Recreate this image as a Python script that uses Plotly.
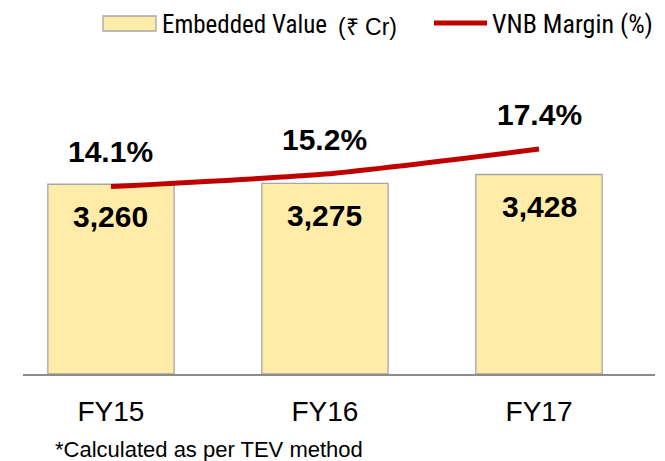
import plotly.graph_objects as go

# ---- data ----
categories = ["FY15", "FY16", "FY17"]
embedded_value = [3260, 3275, 3428]          # ₹ Cr
vnb_margin = [14.1, 15.2, 17.4]              # %
ev_labels = ["3,260", "3,275", "3,428"]
vnb_labels = ["14.1%", "15.2%", "17.4%"]
footnote = "*Calculated as per TEV method"

# ---- geometry (page has an 8px body margin) ----
OFF = 8
W, H = 665 - OFF, 461 - OFF
L, R, T, B = 23 - OFF, 10, 60 - OFF, 87
PW, PH = W - L - R, H - T - B


def pxx(x):
    return (x - OFF - L) / PW


def pxy(y):
    return (H - B - (y - OFF)) / PH


ARIAL = "Liberation Sans, Arial, sans-serif"
NARROW = "Liberation Sans Narrow, Arial Narrow, Roboto Condensed, sans-serif"

fig = go.Figure()
fig.add_trace(go.Bar(
    x=categories, y=embedded_value, width=0.59, yaxis="y",
    marker=dict(color="#FFECA8", line=dict(color="#A6A6A6", width=1.3)),
    hoverinfo="skip",
))
fig.add_trace(go.Scatter(
    x=categories, y=vnb_margin, mode="lines", yaxis="y2",
    line=dict(color="#C00000", width=5, shape="spline", smoothing=0.6),
    hoverinfo="skip",
))

annotations = []
for c, v, t in zip(categories, embedded_value, ev_labels):
    annotations.append(dict(x=c, y=v, xref="x", yref="y", text=t, showarrow=False,
                            yshift=-32, yanchor="middle",
                            font=dict(family=ARIAL, size=30, color="black", weight="bold")))
for c, v, t in zip(categories, vnb_margin, vnb_labels):
    annotations.append(dict(x=c, y=v, xref="x", yref="y2", text=t, showarrow=False,
                            yshift=35, yanchor="middle",
                            font=dict(family=ARIAL, size=30, color="black", weight="bold")))

# footnote
annotations.append(dict(x=pxx(53), y=pxy(449), xref="paper", yref="paper", text=footnote,
                        showarrow=False, xanchor="left", yanchor="middle",
                        font=dict(family=ARIAL, size=22, color="black")))

# custom legend
shapes = [
    dict(type="rect", xref="paper", yref="paper", x0=pxx(103), x1=pxx(156), y0=pxy(31), y1=pxy(16),
         fillcolor="#FFECA8", line=dict(color="#A6A6A6", width=1.3)),
    dict(type="line", xref="paper", yref="paper", x0=pxx(434), x1=pxx(487), y0=pxy(23), y1=pxy(23),
         line=dict(color="#C00000", width=5)),
]
annotations += [
    dict(x=pxx(160), y=pxy(24), xref="paper", yref="paper", text="Embedded Value", showarrow=False,
         xanchor="left", yanchor="middle", font=dict(family=NARROW, size=25, color="black")),
    dict(x=pxx(336), y=pxy(27), xref="paper", yref="paper", text="(₹ Cr)", showarrow=False,
         xanchor="left", yanchor="middle", font=dict(family=ARIAL, size=23, color="black")),
    dict(x=pxx(490), y=pxy(24), xref="paper", yref="paper", text="VNB Margin (%)", showarrow=False,
         xanchor="left", yanchor="middle", font=dict(family=NARROW, size=26, color="black")),
]

fig.update_layout(
    width=W, height=H,
    margin=dict(l=L, r=R, t=T, b=B, pad=0),
    paper_bgcolor="white", plot_bgcolor="white",
    showlegend=False,
    xaxis=dict(type="category", range=[-0.411, 2.542], showline=True, linecolor="#8C8C8C",
               linewidth=2, showgrid=False, zeroline=False, ticks="",
               tickfont=dict(family=ARIAL, size=28, color="black"), ticklabelstandoff=11),
    yaxis=dict(range=[0, 5395], visible=False, showgrid=False),
    yaxis2=dict(range=[-2.4, 25.24], overlaying="y", visible=False, showgrid=False),
    shapes=shapes,
    annotations=annotations,
)

fig.write_html("out.html")
